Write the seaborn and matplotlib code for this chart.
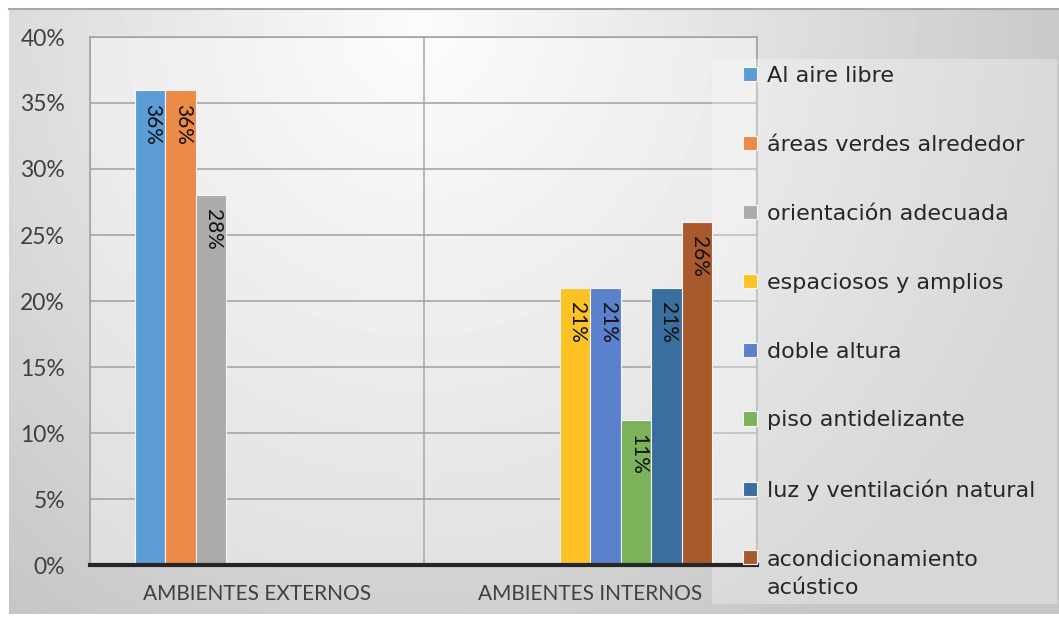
import numpy as np
import pandas as pd
import matplotlib.pyplot as plt
from matplotlib.patches import Rectangle
from matplotlib.lines import Line2D
import seaborn as sns

# datos
categorias = ['AMBIENTES EXTERNOS', 'AMBIENTES INTERNOS']
series = ['Al aire libre', 'áreas verdes alrededor', 'orientación adecuada',
          'espaciosos y amplios', 'doble altura', 'piso antidelizante',
          'luz y ventilación natural', 'acondicionamiento\nacústico']
grupo = [0, 0, 0, 1, 1, 1, 1, 1]
valores = [36, 36, 28, 21, 21, 11, 21, 26]
colores = ['#5E9CD8', '#EC8A48', '#ABABAB', '#FDC325',
           '#5B80CC', '#7AB35A', '#3A6E9E', '#A85A2C']
yticks = [0, 5, 10, 15, 20, 25, 30, 35, 40]

df = pd.DataFrame({'categoria': [categorias[g] for g in grupo],
                   'serie': series, 'valor': valores})

W, H = 1059, 619
fig = plt.figure(figsize=(W / 100, H / 100), dpi=100, facecolor='white')

# fondo degradado del marco
bg = fig.add_axes([9 / W, 5 / H, 1050 / W, 604 / H], zorder=-10)
yy, xx = np.mgrid[0:604, 0:1050]
r = np.sqrt(((xx - 410) / 650.0) ** 2 + ((yy - 10) / 700.0) ** 2)
img = 0.985 - 0.2 * np.clip(r, 0, 1.05)
bg.imshow(img, cmap='gray', vmin=0, vmax=1, aspect='auto', interpolation='bilinear')
bg.axis('off')
fig.add_artist(Line2D([9 / W, 1], [1 - 9 / H, 1 - 9 / H], transform=fig.transFigure,
                      color='#a8a8a8', lw=1.5))

ax = fig.add_axes([90 / W, (H - 565) / H, 667 / W, 528 / H])
ax.patch.set_facecolor('white')
ax.patch.set_alpha(0.35)

sns.barplot(data=df, x='categoria', y='valor', hue='serie', order=categorias,
            hue_order=series, palette=colores, width=0.73, gap=0, saturation=1,
            errorbar=None, edgecolor='#f4f4f4', linewidth=0.8, ax=ax, zorder=3)

ax.set_xlim(-0.5, 1.5)
ax.set_ylim(0, 40)
ax.set_yticks(yticks)
ax.set_yticklabels([f'{v}%' for v in yticks])
ax.set_xlabel('')
ax.set_ylabel('')
ax.set_xticks([-0.5, 0.5, 1.5], minor=True)
ax.grid(axis='y', color='#a0a0a0', lw=1.1, zorder=0)
ax.grid(axis='x', which='minor', color='#a8a8a8', lw=1.1, zorder=0)
ax.grid(axis='x', which='major', visible=False)
ax.set_axisbelow(True)
ax.tick_params(axis='both', which='both', length=0, colors='#404040')
ax.tick_params(axis='y', pad=18)
ax.tick_params(axis='x', pad=14)
for lab in ax.get_yticklabels():
    lab.set_fontfamily('Lato')
    lab.set_fontsize(16.5)
for lab in ax.get_xticklabels():
    lab.set_fontfamily('Lato')
    lab.set_fontsize(15)
for s in ['top', 'right', 'left']:
    ax.spines[s].set_color('#a0a0a0')
    ax.spines[s].set_linewidth(1.1)
ax.spines['bottom'].set_color('#262626')
ax.spines['bottom'].set_linewidth(3)
ax.spines['bottom'].set_zorder(5)

# etiquetas de datos dentro del extremo
for cont in ax.containers:
    for bar in cont:
        h = bar.get_height()
        if np.isnan(h) or h == 0:
            continue
        ax.annotate(f'{h:.0f}%', (bar.get_x() + bar.get_width() / 2, h),
                    xytext=(1.5, -10), textcoords='offset points', rotation=270,
                    ha='center', va='top', fontsize=15, family='Lato',
                    color='#111111', zorder=6)

# leyenda
ax.add_patch(Rectangle((712 / W, (H - 604) / H), (1057 - 712) / W, (604 - 59) / H,
                       transform=fig.transFigure, facecolor='white', alpha=0.3,
                       edgecolor='none', zorder=4, clip_on=False))
sns.move_legend(ax, loc='upper left', bbox_to_anchor=(743 / W, 1 - 66 / H),
                bbox_transform=fig.transFigure, frameon=False, title=None,
                prop={'family': 'DejaVu Sans', 'size': 16}, handlelength=0.62,
                handleheight=0.62, handletextpad=0.45, labelspacing=2.2,
                borderpad=0, borderaxespad=0)
leg = ax.get_legend()
for t in leg.get_texts():
    t.set_color('#262626')
    t.set_linespacing(1.5)
# el cuadro de la ultima entrada va alineado con su primera linea
leg.legend_handles[-1].set_y(leg.legend_handles[-1].get_y() + 12)

fig.savefig('out.png', dpi=100)
